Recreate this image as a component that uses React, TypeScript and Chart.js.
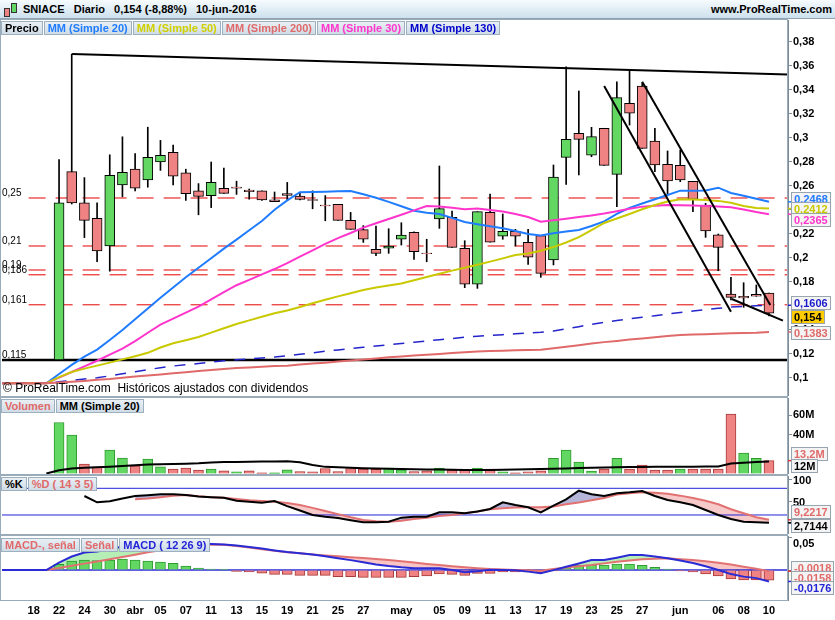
import React, { useEffect, useRef } from 'react';
import { Chart, registerables } from 'chart.js';

Chart.register(...registerables);

const FONT = '"Liberation Sans", Arial, Helvetica, sans-serif';

// ---------------- DATA ----------------
const DATES = ['15-mar','16-mar','17-mar','18-mar','21-mar','22-mar','23-mar','24-mar','29-mar','30-mar','31-mar','1-abr','4-abr','5-abr','6-abr','7-abr','8-abr','11-abr','12-abr','13-abr','14-abr','15-abr','18-abr','19-abr','20-abr','21-abr','22-abr','25-abr','26-abr','27-abr','28-abr','29-abr','2-may','3-may','4-may','5-may','6-may','9-may','10-may','11-may','12-may','13-may','16-may','17-may','18-may','19-may','20-may','23-may','24-may','25-may','26-may','27-may','30-may','31-may','1-jun','2-jun','3-jun','6-jun','7-jun','8-jun','9-jun','10-jun'];

const X_TICK_INDEX = [3,5,7,9,11,13,15,17,19,21,23,25,27,29,32,35,37,39,41,43,45,47,49,51,54,57,59,61];
const X_TICK_LABELS = ['18','22','24','30','abr','05','07','11','13','15','19','21','25','27','may','05','09','11','13','17','19','23','25','27','jun','06','08','10'];

const N = null;
const OPEN = [N,N,N,N,N,.115,.272,.246,.233,.210,.261,.274,.265,.280,.288,.271,.256,.252,.258,.2590,.2567,.256,.2484,.2537,.2517,.2487,.2440,.2447,.2314,.2236,.2072,.2081,.2156,.2214,.2042,.2325,.2339,.2081,.1781,.2381,.2181,.2222,.2131,.2186,.1983,.2839,.3039,.2856,.3081,.2697,.3289,.3433,.2975,.2781,.2772,.2639,.2442,.2194,.1700,.1680,.1697,.1708];
const HIGH = [N,N,N,N,N,.282,.370,.267,.246,.286,.301,.287,.309,.298,.294,.274,.262,.280,.275,.264,.2575,.256,.255,.263,.254,.256,.252,.2447,.238,.227,.2267,.2244,.2294,.2219,.2156,.2767,.2392,.2144,.2386,.2533,.2367,.2239,.2239,.2186,.2775,.3594,.3392,.3089,.3081,.3469,.3567,.346,.3081,.2892,.29,.2639,.2456,.2200,.1839,.1794,.1775,.1708];
const LOW = [N,N,N,N,N,.115,.245,.217,.197,.189,.251,.256,.259,.273,.261,.248,.236,.242,.2539,.253,.249,.248,.2470,.248,.2485,.241,.231,.2314,.2239,.213,.2019,.2039,.2108,.1989,.1969,.2247,.2089,.1753,.1747,.2131,.2156,.21,.1947,.1839,.1942,.2614,.2692,.2844,.2772,.2428,.3108,.2914,.2719,.2525,.2636,.2386,.2172,.1894,.165,.1589,.1681,.1517];
const CLOSE = [N,N,N,N,N,.246,.246,.2314,.2058,.2689,.2714,.2581,.2839,.2856,.2681,.2536,.2514,.2631,.2539,.2582,.2552,.2483,.2470,.2522,.2489,.2480,.2433,.2314,.2239,.2156,.2039,.2100,.2192,.2053,.2036,.2411,.2089,.1781,.2386,.2131,.2222,.2181,.2006,.1872,.2675,.2989,.2989,.3011,.2772,.3336,.3206,.2914,.2775,.2642,.265,.2489,.2225,.2089,.1672,.1668,.1681,.1540];

const MA20 = [.0956,.0956,.0956,.0956,.0956,.1033,.1109,.1178,.1237,.1317,.14,.1489,.1579,.1668,.1754,.184,.1919,.1998,.2078,.2153,.2231,.2308,.2402,.248,.2548,.255,.2553,.2556,.2558,.2531,.2502,.2468,.2431,.2394,.2377,.2367,.2334,.23,.2281,.2264,.2248,.2225,.22,.2188,.2206,.2221,.2233,.2267,.2305,.2367,.2418,.2454,.249,.2525,.2561,.2561,.2563,.2586,.2542,.2519,.2493,.2468];
const MA30 = [.0956,.0956,.0956,.0956,.0956,.1003,.105,.1097,.1144,.1194,.1245,.1308,.1377,.1444,.1494,.1544,.1594,.1655,.1716,.1773,.1818,.1863,.1908,.1958,.2011,.2063,.2117,.2166,.2208,.2253,.229,.2325,.236,.2397,.2433,.2429,.2418,.2407,.2413,.24,.2387,.2366,.2341,.2303,.2314,.2327,.2341,.2355,.237,.2389,.241,.2428,.2435,.2442,.2439,.2438,.2434,.243,.2423,.2404,.2383,.2365];
const MA50 = [.0956,.0956,.0956,.0956,.0956,.1008,.105,.1078,.1103,.1128,.1155,.1182,.121,.1254,.129,.1315,.1342,.1378,.1415,.145,.148,.151,.154,.1562,.1592,.1623,.1652,.168,.1707,.1733,.1755,.1771,.1787,.1815,.1842,.1868,.1895,.1918,.1943,.197,.1997,.2025,.2038,.206,.2091,.2129,.2174,.2233,.2292,.2329,.2367,.2406,.2441,.247,.2489,.2487,.2483,.2476,.2461,.2434,.2417,.2412];
const MA130 = [.0956,.0956,.0956,.0956,.0956,.0968,.098,.0991,.1002,.1018,.1035,.1052,.1069,.1086,.11,.111,.1121,.1132,.1143,.1152,.1159,.1167,.1174,.1185,.1198,.121,.1223,.1234,.1245,.1256,.1267,.1277,.1288,.1298,.1308,.1319,.1329,.134,.1348,.1355,.1361,.1368,.1374,.1381,.1391,.1409,.1428,.1447,.1465,.1479,.1493,.1506,.1519,.1533,.1545,.1558,.1569,.1581,.1591,.1597,.1603,.1606];
const MA200 = [.0956,.0956,.0956,.0956,.0956,.0963,.0969,.0976,.0985,.0992,.1002,.1012,.1021,.103,.1039,.1048,.1058,.1066,.1075,.1084,.1088,.1093,.1099,.1103,.1112,.112,.1128,.1137,.1146,.1154,.1163,.1173,.118,.1187,.1194,.1201,.1208,.1215,.1221,.1224,.1228,.1231,.1234,.1235,.1248,.126,.1273,.1287,.1299,.1309,.132,.1329,.1339,.1349,.1358,.1362,.1365,.1368,.1372,.1375,.1377,.1383];

// volume in millions of shares
const VOLUME = [N,N,N,N,N,52.3,39.4,9.6,6.9,24,15.8,7.9,14.8,6.9,4.5,5.5,3.5,4.5,2.8,1.7,2.8,0.7,0.7,3.8,2,1.7,5.1,2,5.1,4.5,4.2,5.5,3.8,2,2.8,5.5,3.5,3.5,5.5,4.5,1.7,0.7,1.7,2.8,15.6,24,11.8,2.4,4.5,15.6,4.5,8.6,3.5,3.5,4.5,4.5,4.5,4.5,61,21,15.6,13.2];
const VOLUME_UP = [N,N,N,N,N,1,1,0,0,1,1,0,1,1,0,0,0,1,0,1,0,0,1,1,0,0,0,0,0,0,0,1,1,0,0,1,0,0,1,0,1,0,0,0,1,1,1,1,0,1,0,0,0,0,1,0,0,0,0,1,1,0];
const VOL_MA20 = [N,N,N,N,0,3.3,5.1,5.8,6.3,7,7.8,8.5,9.3,9.6,9.8,10.1,10.5,11.4,11.7,11.8,12,12.2,12.4,12.5,11.5,8.7,6.8,6.4,5.8,5.4,5.1,4.9,4.6,4.3,4.1,4,3.8,3.7,3.6,3.7,3.9,4.1,4.4,4.6,4.8,5.2,5.6,5.9,6.2,6.4,6.6,6.7,6.8,6.9,7,7,7.1,7.3,10.2,11.0,11.8,12.3];

const STOCH_K = [N,N,N,N,N,N,N,62.7,48.5,51,57,62.7,64.5,66.5,66.5,65,61.5,60,58.9,52.1,50,47.6,51.5,40,30,20,16,13,8,3.6,3.6,5,14,16.2,16.2,26,26,23.8,28,33.5,48.5,42.5,37.3,26,40.9,55.3,74.6,66.5,62.7,68.8,71,73.9,62.7,53.7,48.5,42.5,31.2,20,11,4.9,3.5,2.7];
const STOCH_D = [N,N,N,N,N,N,N,N,N,N,N,55.3,57,60,63,65,62,60,59,56,53,51.5,50,47,42.5,36,29,22,15,9,6,5,7,11,14,17.8,20,24,28,33,35,37,37.3,37.3,39,44,48,53,58,66,69,71,70,67.5,63.5,58,52,44,33,24,15,9.2];

const MACD_LINE = [0,0,0,0,0,.0113,.0208,.0268,.0286,.032,.036,.039,.041,.0425,.043,.0425,.0412,.0401,.0392,.0378,.0354,.0329,.0301,.0276,.0257,.0237,.0211,.0182,.0152,.0119,.0086,.0061,.0041,.0028,.0026,.0026,0,-.0035,-.0018,.0003,.0001,-.0004,-.0025,-.005,-.0002,.0049,.01,.0153,.0154,.019,.023,.0231,.0206,.0182,.0147,.0109,.0057,.0001,-.0063,-.0102,-.0125,-.0176];
const MACD_SIGNAL = [0,0,0,0,0,.0032,.0065,.0098,.0131,.0166,.02,.0235,.0272,.0302,.0328,.0362,.0385,.0392,.0388,.0369,.0346,.032,.0296,.0274,.0256,.024,.0225,.021,.0197,.0184,.0171,.0153,.0134,.0114,.0094,.0076,.0058,.0042,.0027,.0015,.0008,0,-.0005,-.001,.0015,.004,.0059,.0077,.0102,.0128,.0146,.0164,.0172,.018,.0167,.0152,.0134,.0113,.0083,.0051,.0018,-.0018];
const MACD_HIST = [N,N,N,N,N,.0087,.0138,.0154,.0144,.0154,.0169,.0154,.0138,.0123,.0103,.0062,.0031,.0015,.0002,-.002,-.003,-.005,-.0067,-.0067,-.0082,-.0082,-.0082,-.0103,-.0103,-.0113,-.0113,-.0113,-.0113,-.0103,-.0092,-.0062,-.0067,-.0082,-.0051,-.0051,-.0031,-.0031,-.0031,-.0041,-.0015,.0036,.0072,.0077,.0077,.0092,.0092,.0072,.0041,.0015,-.0015,-.0031,-.0062,-.0092,-.0138,-.0154,-.0154,-.0158];

const PRICE_TICKS = [0.1,0.12,0.14,0.16,0.18,0.2,0.22,0.24,0.26,0.28,0.3,0.32,0.34,0.36,0.38];
const VOLUME_TICKS = [40,60];
const STOCH_TICKS = [0,50,100];
const MACD_TICKS = [0,0.05];

const LEVELS = [0.25,0.21,0.19,0.186,0.161];
const LEVEL_LABELS = ['0,25','0,21','0,19','0,186','0,161'];
const SUPPORT = 0.115;
const SUPPORT_LABEL = '0,115';
const STOCH_BANDS = [80,20];
// trend lines: [x index, price] pairs
const TREND_LINES = [
  [[6.03,0.370],[62.5,0.3530]],
  [[48.0,0.3433],[58.0,0.1553]],
  [[51.0,0.3469],[61.1,0.1608]],
  [[58.07,0.1658],[62.1,0.1478]],
];

// ---------------- LAYOUT / STYLE ----------------
const X_MIN = 0.5;
const X_MAX = 62.5;
const LEVEL_X_START = 2.6;
const AXIS_W = 47;
const UP = '#62d862';
const DOWN = '#ef8282';
const UP_B = '#2f9a2f';
const DOWN_B = '#a83a3a';

const idxAll = DATES.map((_, i) => i);
const candleIdx = idxAll.filter((i) => OPEN[i] != null);
const fmtComma = (v: number) => String(v).replace('.', ',');

function xAxis(show: boolean): any {
  return {
    type: 'linear', min: X_MIN, max: X_MAX, offset: false, display: show,
    grid: { display: false, drawTicks: false }, border: { display: false },
    afterBuildTicks: (s: any) => { s.ticks = X_TICK_INDEX.map((v) => ({ value: v })); },
    afterFit: (s: any) => {
      s.height = show ? 20 : 0;
      s.paddingLeft = 0; s.paddingRight = 0; s.paddingTop = 0; s.paddingBottom = 0;
    },
    ticks: {
      autoSkip: false, maxRotation: 0, minRotation: 0, padding: 4, color: '#000',
      font: { family: FONT, size: 11, weight: 'bold' },
      callback: (_v: any, i: number) => X_TICK_LABELS[i],
    },
  };
}

function yAxis(min: number, max: number, ticks: number[], fmt: (v: number) => string, labelOffset = 0): any {
  return {
    type: 'linear', position: 'right', min, max,
    grid: { drawOnChartArea: false, drawTicks: true, tickLength: 4, color: '#7f8c96', lineWidth: 1 },
    border: { display: true, color: '#7f8c96', width: 1 },
    afterBuildTicks: (s: any) => { s.ticks = ticks.map((v) => ({ value: v })); },
    afterFit: (s: any) => { s.width = AXIS_W; s.paddingTop = 0; s.paddingBottom = 0; },
    ticks: {
      padding: 1, color: '#000', labelOffset,
      font: { family: FONT, size: 11, weight: 'bold' },
      callback: (_v: any, i: number) => fmt(ticks[i]),
    },
  };
}

function baseOptions(y: any, showX: boolean, padTop = 0): any {
  return {
    responsive: false, maintainAspectRatio: false, animation: false, devicePixelRatio: 1,
    events: [],
    layout: { padding: { left: 2, right: 0, top: padTop, bottom: 0 } },
    plugins: { legend: { display: false }, tooltip: { enabled: false }, filler: { drawTime: 'beforeDatasetsDraw' } },
    scales: { x: xAxis(showX), y },
  };
}

function series(values: any[], color: string, width: number, order: number, dash: number[] = []): any {
  return {
    type: 'line', data: values.map((v, i) => ({ x: i, y: v })), borderColor: color, borderWidth: width,
    borderDash: dash, pointRadius: 0, pointHoverRadius: 0, tension: 0, fill: false, order, spanGaps: false,
  };
}

function seg(points: number[][], color: string, width: number, order: number, dash: number[] = []): any {
  return {
    type: 'line', data: points.map(([x, y]) => ({ x, y })), borderColor: color, borderWidth: width,
    borderDash: dash, pointRadius: 0, pointHoverRadius: 0, tension: 0, fill: false, order,
  };
}

function markerPlugin(items: { value: number; color: string }[]): any {
  return {
    id: 'axisMarkers',
    afterDraw(chart: any) {
      const { ctx, chartArea, scales } = chart;
      ctx.save();
      ctx.lineWidth = 1.5;
      items.forEach((m) => {
        const y = scales.y.getPixelForValue(m.value);
        ctx.strokeStyle = m.color;
        ctx.beginPath();
        ctx.moveTo(chartArea.right, y);
        ctx.lineTo(chartArea.right + 5, y);
        ctx.stroke();
      });
      ctx.restore();
    },
  };
}

const levelLabelPlugin = {
  id: 'levelLabels',
  afterDatasetsDraw(chart: any) {
    const { ctx, scales } = chart;
    ctx.save();
    ctx.font = `10px ${FONT}`;
    ctx.fillStyle = '#000';
    ctx.textBaseline = 'alphabetic';
    LEVELS.forEach((v, i) => ctx.fillText(LEVEL_LABELS[i], 2, scales.y.getPixelForValue(v) - 2));
    ctx.fillText(SUPPORT_LABEL, 2, scales.y.getPixelForValue(SUPPORT) - 2);
    ctx.restore();
  },
};

const last = (a: any[]) => a[a.length - 1];

function priceConfig(): any {
  const datasets: any[] = [];
  LEVELS.forEach((v) => datasets.push(seg([[LEVEL_X_START, v], [X_MAX, v]], '#e60000', 1, 10, [17, 10])));
  datasets.push(seg([[X_MIN, SUPPORT], [X_MAX, SUPPORT]], '#000', 2.5, 10));
  datasets.push({
    type: 'bar', data: candleIdx.map((i) => ({ x: i, y: [LOW[i], HIGH[i]] })), backgroundColor: '#000',
    borderWidth: 0, barThickness: 1, grouped: false, order: 6,
  });
  datasets.push({
    type: 'bar', data: candleIdx.map((i) => ({ x: i, y: [OPEN[i], CLOSE[i]] })),
    backgroundColor: candleIdx.map((i) => ((CLOSE[i] as number) >= (OPEN[i] as number) ? UP : DOWN)),
    borderColor: '#000', borderWidth: 1, borderSkipped: false, barThickness: 10, grouped: false, order: 5,
  });
  datasets.push(series(MA200, '#e06a6a', 2, 3));
  datasets.push(series(MA130, '#2424cc', 1.5, 3, [11, 9]));
  datasets.push(series(MA50, '#c9c900', 2, 3));
  datasets.push(series(MA30, '#ff35cc', 2, 3));
  datasets.push(series(MA20, '#1f7cff', 2, 3));
  TREND_LINES.forEach((t) => datasets.push(seg(t, '#000', 2, 1)));
  return {
    type: 'bar', data: { datasets },
    options: baseOptions(yAxis(0.085, 0.39833, PRICE_TICKS, fmtComma), false),
    plugins: [levelLabelPlugin, markerPlugin([
      { value: last(MA20), color: '#1f7cff' }, { value: last(MA50), color: '#c9c900' },
      { value: last(MA30), color: '#ff35cc' }, { value: last(MA130), color: '#2424cc' },
      { value: last(MA200), color: '#e06a6a' },
    ])],
  };
}

function volumeConfig(): any {
  const vi = idxAll.filter((i) => VOLUME[i] != null);
  return {
    type: 'bar',
    data: {
      datasets: [
        {
          type: 'bar', data: vi.map((i) => ({ x: i, y: VOLUME[i] })),
          backgroundColor: vi.map((i) => (VOLUME_UP[i] ? UP : DOWN)),
          borderColor: vi.map((i) => (VOLUME_UP[i] ? UP_B : DOWN_B)),
          borderWidth: 1, barThickness: 10, grouped: false, order: 5,
        },
        series(VOL_MA20, '#000', 2, 1),
      ],
    },
    options: baseOptions(yAxis(-0.51, 77.44, VOLUME_TICKS, (v) => `${v}M`), false),
    plugins: [markerPlugin([{ value: last(VOLUME), color: '#e03030' }])],
  };
}

function stochConfig(): any {
  const kFill = STOCH_K.map((v, i) => (STOCH_D[i] == null ? null : v));
  return {
    type: 'line',
    data: {
      datasets: [
        seg([[X_MIN, STOCH_BANDS[0]], [X_MAX, STOCH_BANDS[0]]], '#2323d8', 1, 9),
        seg([[X_MIN, STOCH_BANDS[1]], [X_MAX, STOCH_BANDS[1]]], '#2323d8', 1, 9),
        series(STOCH_D, '#e27272', 2, 2),
        {
          ...series(kFill, 'rgba(0,0,0,0)', 0, 4),
          fill: { target: 2, above: 'rgba(120,120,185,0.55)', below: 'rgba(240,150,150,0.5)' },
        },
        series(STOCH_K, '#000', 2, 1),
      ],
    },
    options: baseOptions(yAxis(-22.7, 107.64, STOCH_TICKS, (v) => String(v), 1.5), false, 6),
    plugins: [markerPlugin([{ value: last(STOCH_D), color: '#e03030' }, { value: last(STOCH_K), color: '#000' }])],
  };
}

function macdConfig(): any {
  const hi = idxAll.filter((i) => MACD_HIST[i] != null);
  return {
    type: 'bar',
    data: {
      datasets: [
        seg([[X_MIN, 0], [X_MAX, 0]], '#2b2bd6', 1.5, 9),
        {
          type: 'bar', data: hi.map((i) => ({ x: i, y: MACD_HIST[i] })),
          backgroundColor: hi.map((i) => ((MACD_HIST[i] as number) >= 0 ? UP : DOWN)),
          borderColor: hi.map((i) => ((MACD_HIST[i] as number) >= 0 ? UP_B : DOWN_B)),
          borderWidth: 1, barThickness: 10, grouped: false, order: 6,
        },
        series(MACD_SIGNAL, '#e27272', 2, 2),
        {
          ...series(MACD_LINE, '#2b2bd6', 2, 1),
          fill: { target: 2, above: 'rgba(150,232,150,0.7)', below: 'rgba(244,165,165,0.65)' },
        },
      ],
    },
    options: baseOptions(yAxis(-0.04615, 0.05231, MACD_TICKS, fmtComma, 6.5), true),
    plugins: [markerPlugin([{ value: last(MACD_SIGNAL), color: '#e03030' }, { value: last(MACD_LINE), color: '#2b2bd6' }])],
  };
}

// ---------------- UI helpers ----------------
const legendBox = (text: string, color: string, key: string) => (
  <span key={key} style={{
    display: 'inline-block', height: 12, lineHeight: '12px', padding: '0 3px', marginRight: 1,
    border: '1px solid #9db0bf', background: 'linear-gradient(#e9f0f5,#cfdce6)', color,
    font: `bold 11px ${FONT}`, whiteSpace: 'nowrap',
  }}>{text}</span>
);

const legendRow = (top: number, items: [string, string][]) => (
  <div style={{ position: 'absolute', left: 1, top, display: 'flex', pointerEvents: 'none' }}>
    {items.map(([t, c], i) => legendBox(t, c, t + i))}
  </div>
);

const valueBox = (text: string, color: string, top: number, bg = '#f4f4f4', key?: string) => (
  <div key={key || text} style={{
    position: 'absolute', left: 791, top, height: 12, lineHeight: '12px', padding: '0 2px',
    border: '1px solid #98a4ae', background: bg, color, font: `bold 11px ${FONT}`, whiteSpace: 'nowrap',
  }}>{text}</div>
);

const frame = (top: number, height: number) => (
  <div style={{
    position: 'absolute', left: 0, top, width: 788, height, boxSizing: 'border-box',
    border: '1px solid #9aabb9', pointerEvents: 'none',
  }} />
);

export default function App() {
  const priceRef = useRef<HTMLCanvasElement | null>(null);
  const volRef = useRef<HTMLCanvasElement | null>(null);
  const stochRef = useRef<HTMLCanvasElement | null>(null);
  const macdRef = useRef<HTMLCanvasElement | null>(null);

  useEffect(() => {
    const charts = [
      new Chart(priceRef.current as HTMLCanvasElement, priceConfig()),
      new Chart(volRef.current as HTMLCanvasElement, volumeConfig()),
      new Chart(stochRef.current as HTMLCanvasElement, stochConfig()),
      new Chart(macdRef.current as HTMLCanvasElement, macdConfig()),
    ];
    return () => charts.forEach((c) => c.destroy());
  }, []);

  const cv = (top: number, h: number) => ({ position: 'absolute' as const, left: 0, top, width: 835, height: h });

  return (
    <div style={{ position: 'absolute', left: 0, top: 0, width: 835, height: 620, background: '#fff', overflow: 'hidden', fontFamily: FONT }}>
      {/* header */}
      <div style={{
        position: 'absolute', left: 0, top: 0, width: 835, height: 19, boxSizing: 'border-box',
        background: 'linear-gradient(#f6fbfe,#cde1ed)', borderBottom: '1px solid #8fa3b3',
      }}>
        <div style={{ position: 'absolute', left: 4, top: 8, width: 4, height: 7, background: '#ef8282', border: '1px solid #333' }} />
        <div style={{ position: 'absolute', left: 11, top: 3, width: 4, height: 8, background: '#62d862', border: '1px solid #333' }} />
        <div style={{ position: 'absolute', left: 23, top: 3, font: `bold 11px ${FONT}`, color: '#000', whiteSpace: 'pre' }}>
          {'SNIACE   Diario   0,154 (-8,88%)   10-jun-2016'}
        </div>
        <div style={{ position: 'absolute', right: 3, top: 3, font: `bold 11px ${FONT}`, color: '#000' }}>www.ProRealTime.com</div>
      </div>

      <canvas ref={priceRef} width={835} height={376} style={cv(20, 376)} />
      <canvas ref={volRef} width={835} height={76} style={cv(398, 76)} />
      <canvas ref={stochRef} width={835} height={64} style={cv(470, 64)} />
      <canvas ref={macdRef} width={835} height={84} style={cv(536, 84)} />

      {frame(19, 378)}
      {frame(397, 78)}
      {frame(475, 60)}
      {frame(535, 66)}

      {legendRow(21, [['Precio', '#000'], ['MM (Simple 20)', '#1f7cff'], ['MM (Simple 50)', '#d0d000'], ['MM (Simple 200)', '#e06a6a'], ['MM (Simple 30)', '#ff35cc'], ['MM (Simple 130)', '#0000cc']])}
      {legendRow(399, [['Volumen', '#e06a6a'], ['MM (Simple 20)', '#000']])}
      {legendRow(477, [['%K', '#000'], ['%D ( 14 3 5)', '#e06a6a']])}
      {legendRow(538, [['MACD-, señal', '#e06a6a'], ['Señal', '#e06a6a'], ['MACD ( 12 26 9)', '#2323d8']])}

      <div style={{ position: 'absolute', left: 3, top: 381, font: `12px ${FONT}`, color: '#000', whiteSpace: 'pre' }}>
        {'© ProRealTime.com  Históricos ajustados con dividendos'}
      </div>

      {valueBox('0,2468', '#1f7cff', 192)}
      {valueBox('0,2412', '#c9c900', 202)}
      {valueBox('0,2365', '#ff35cc', 213)}
      {valueBox('0,1606', '#1a1acc', 296)}
      {valueBox('0,154', '#000', 310, '#ffcc00')}
      {valueBox('0,1383', '#e06a6a', 326)}

      {valueBox('13,2M', '#e06a6a', 447)}
      {valueBox('12M', '#000', 459)}

      {valueBox('9,2217', '#e06a6a', 505)}
      {valueBox('2,7144', '#000', 519)}

      {valueBox('-0,0018', '#e06a6a', 561)}
      {valueBox('-0,0158', '#e06a6a', 571)}
      {valueBox('-0,0176', '#2323d8', 581)}
    </div>
  );
}
